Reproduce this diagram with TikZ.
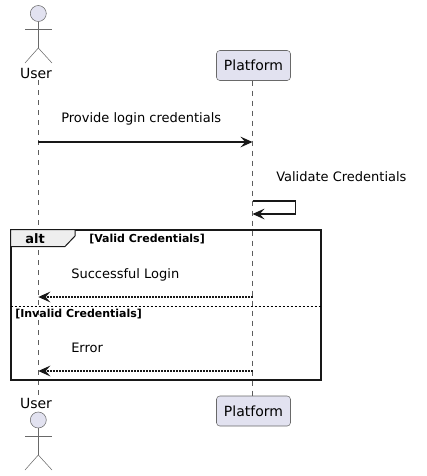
\documentclass[tikz,border=0pt]{standalone}
\usepackage{fontspec}
\setmainfont{DejaVu Sans}
\usetikzlibrary{arrows.meta}
\definecolor{actorfill}{RGB}{226,226,240}
\definecolor{umlline}{RGB}{24,24,24}
\definecolor{tabfill}{RGB}{238,238,238}
\tikzset{
  lifeline/.style={draw=umlline!70,line width=0.45pt,dash pattern={on 3.75pt off 3.75pt}},
  actorline/.style={draw=umlline!65,line width=0.4pt},
  partbox/.style={draw=umlline!65,fill=actorfill,rounded corners=2.5pt,line width=0.4pt,minimum width=55.5pt,minimum height=22.5pt,inner sep=0pt,font=\fontsize{10.5}{12}\selectfont,text=black},
  msg/.style={draw=umlline,line width=1.3pt,-{Stealth[length=9pt,width=8pt,inset=3.5pt]}},
  msgdot/.style={msg,dash pattern={on 1.125pt off 1.125pt}},
  msglabel/.style={anchor=base west,inner sep=0pt,font=\fontsize{9.75}{12}\selectfont,text=black},
  guardlabel/.style={anchor=base west,inner sep=0pt,font=\fontsize{8.25}{10}\selectfont\bfseries,text=black},
}
\begin{document}
\begin{tikzpicture}[x=0.75pt,y=0.75pt,yscale=-1,xscale=1]
\useasboundingbox (0,0) rectangle (427,476);

%Lifelines
\coordinate (userTop) at (38.3,80);
\coordinate (userBot) at (38.3,396);
\node [partbox] (platTop) at (253.5,65.5) {Platform};
\node [partbox] (platBot) at (253.5,411) {Platform};
\coordinate (platUp) at (252.5,80.5);
\coordinate (platDown) at (252.5,395.5);
\draw [lifeline] (userTop) -- (userBot);
\draw [lifeline] (platUp) -- (platDown);

%Actor top
\draw [actorline,fill=actorfill] (38.3,13.5) circle (8);
\draw [actorline] (38.3,21.5) -- (38.3,48);
\draw [actorline] (25,29) -- (52,29);
\draw [actorline] (25,63) -- (38.3,48) -- (52,63);
\node [anchor=base,inner sep=0pt,font=\fontsize{10.5}{12}\selectfont] (userLabelTop) at (36,78) {User};

%Actor bottom
\node [anchor=base,inner sep=0pt,font=\fontsize{10.5}{12}\selectfont] (userLabelBot) at (36,408.5) {User};
\draw [actorline,fill=actorfill] (38.3,420) circle (8);
\draw [actorline] (38.3,428) -- (38.3,455);
\draw [actorline] (25,436) -- (52,436);
\draw [actorline] (25,470) -- (38.3,455) -- (52,470);

%Messages
\coordinate (m1a) at (38.3,142);
\coordinate (m1b) at (252.5,142);
\draw [msg] (m1a) -- (m1b);
\node [msglabel] (m1) at (61,122) {Provide login credentials};

\coordinate (m2a) at (252.5,201);
\coordinate (m2b) at (252.5,214);
\draw [msg] (m2a) -- (295.5,201) -- (295.5,214) -- (m2b);
\node [msglabel] (m2) at (276,181) {Validate Credentials};

%Alt frame
\draw [draw=umlline,line width=1.5pt] (10.5,229.5) rectangle (320.5,379.5);
\draw [draw=umlline,line width=0.75pt,fill=tabfill] (10.5,229.5) -- (75,229.5) -- (75,236) -- (65,246.5) -- (10.5,246.5) -- cycle;
\node [anchor=base west,inner sep=0pt,font=\fontsize{9.75}{12}\selectfont\bfseries] (altLabel) at (25,243) {alt};
\node [guardlabel] (guardA) at (89,242) {[Valid Credentials]};
\coordinate (splitL) at (10.5,306);
\coordinate (splitR) at (320.5,306);
\draw [draw=black,line width=0.55pt,dash pattern={on 1.5pt off 1.5pt}] (splitL) -- (splitR);
\node [guardlabel] (guardB) at (15,317) {[Invalid Credentials]};

\coordinate (m3a) at (252.5,297);
\coordinate (m3b) at (38.3,297);
\draw [msgdot] (m3a) -- (m3b);
\node [msglabel] (m3) at (71,278) {Successful Login};

\coordinate (m4a) at (252.5,371);
\coordinate (m4b) at (38.3,371);
\draw [msgdot] (m4a) -- (m4b);
\node [msglabel] (m4) at (71,352) {Error};

\end{tikzpicture}
\end{document}
